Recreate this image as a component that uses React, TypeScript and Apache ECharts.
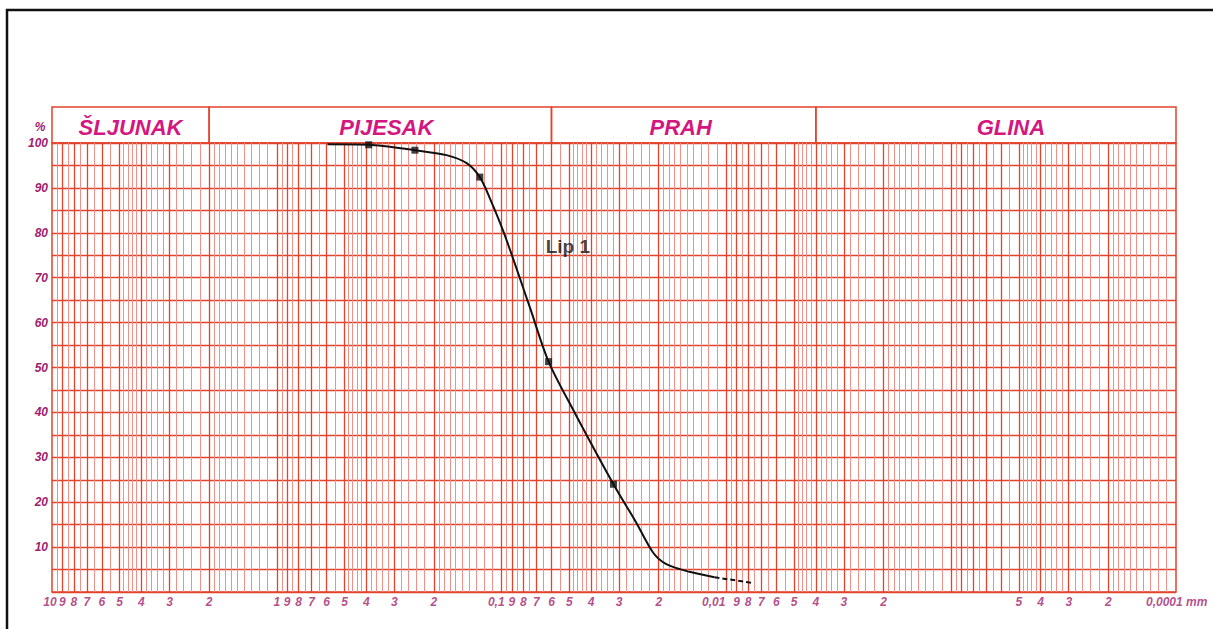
import React, { useEffect, useRef } from 'react';
import * as echarts from 'echarts';

// grain size axis (mm), decreasing to the right
const X_MIN = 0.0001;
const X_MAX = 10;

// grading curve: diameter (mm) and percent passing
const curveD = [0.595, 0.39, 0.243, 0.176, 0.143, 0.125, 0.113, 0.097, 0.0751, 0.0618, 0.0482, 0.0318, 0.0252, 0.0212, 0.0185, 0.0146, 0.0113];
const curveP = [99.7, 99.6, 98.4, 97.3, 95.5, 92.4, 87.8, 79.6, 63.6, 51.3, 40.7, 24.0, 15.5, 8.8, 6.2, 4.5, 3.3];
// dashed extrapolated tail
const tailD = [0.0113, 0.00764];
const tailP = [3.3, 2.0];
// measured points (square markers)
const markD = [0.39, 0.243, 0.125, 0.0618, 0.0318];
const markP = [99.6, 98.4, 92.4, 51.3, 24.0];

// soil classes (header boxes)
const classNames = ['ŠLJUNAK', 'PIJESAK', 'PRAH', 'GLINA'];
const classFrom = [10, 2, 0.06, 0.004];
const classTo = [2, 0.06, 0.004, 0.0001];
const classOffsetX = [0, 6, -3, 15];

// x tick labels
const xTickValues = [10, 9, 8, 7, 6, 5, 4, 3, 2,
  1, 0.9, 0.8, 0.7, 0.6, 0.5, 0.4, 0.3, 0.2,
  0.1, 0.09, 0.08, 0.07, 0.06, 0.05, 0.04, 0.03, 0.02,
  0.01, 0.009, 0.008, 0.007, 0.006, 0.005, 0.004, 0.003, 0.002,
  0.0005, 0.0004, 0.0003, 0.0002, 0.0001];
const xTickTexts = ['10', '9', '8', '7', '6', '5', '4', '3', '2',
  '1', '9', '8', '7', '6', '5', '4', '3', '2',
  '0,1', '9', '8', '7', '6', '5', '4', '3', '2',
  '0,01', '9', '8', '7', '6', '5', '4', '3', '2',
  '5', '4', '3', '2', '0,0001 mm'];

// log-paper grid pattern within one decade (mantissas)
const majorMantissa = [1, 2, 3, 4, 5, 6, 7, 8, 9];
const minorMantissa = [1.1, 1.2, 1.3, 1.4, 1.5, 1.6, 1.7, 1.8, 1.9,
  2.2, 2.4, 2.6, 2.8, 3.2, 3.4, 3.6, 3.8, 4.2, 4.4, 4.6, 4.8,
  5.5, 6.5, 7.5, 8.5, 9.5];
const decades = [0.0001, 0.001, 0.01, 0.1, 1];

const GRID_RED = '#e3432c';
const MINOR_RED = '#ef9188';
const HEAD_PINK = '#d4167f';
const LABEL_PURPLE = '#a1216d';
const FONT = '"Liberation Sans", Arial, sans-serif';

export default function App() {
  const ref = useRef<HTMLDivElement>(null);

  useEffect(() => {
    if (!ref.current) return;
    const chart = echarts.init(ref.current, undefined, { renderer: 'svg' });

    const vLines: any[] = [];
    decades.forEach((dec) => {
      minorMantissa.forEach((m) => {
        vLines.push({ xAxis: +(m * dec).toPrecision(6), lineStyle: { color: MINOR_RED, width: 1, type: 'solid' } });
      });
      majorMantissa.forEach((m) => {
        if (m === 1 && dec === 0.0001) return;
        vLines.push({ xAxis: +(m * dec).toPrecision(6), lineStyle: { color: GRID_RED, width: 1.3, type: 'solid' } });
      });
    });

    const curve = curveD.map((d, i) => [d, curveP[i]]);
    const tail = tailD.map((d, i) => [d, tailP[i]]);
    const marks = markD.map((d, i) => [d, markP[i]]);
    const tickData = xTickValues.map((v, i) => {
      const item: any = { value: [v, 0], name: xTickTexts[i] };
      if (xTickTexts[i] === '0,1') item.label = { align: 'right', offset: [3, 0] };
      if (xTickTexts[i] === '0,01') item.label = { align: 'right', offset: [-1, 0] };
      if (xTickTexts[i] === '0,0001 mm') item.label = { align: 'left', offset: [-30, 0] };
      if (xTickTexts[i] === '10') item.label = { offset: [-2, 0] };
      return item;
    });

    const headAreas = classNames.map((n, i) => [
      {
        name: n,
        xAxis: classFrom[i],
        yAxis: 0,
        label: { offset: [classOffsetX[i], 2] },
      },
      { xAxis: classTo[i], yAxis: 1 },
    ]);

    chart.setOption({
      animation: false,
      grid: [
        { left: 52, right: 37, top: 143, bottom: 37, show: true, borderColor: GRID_RED, borderWidth: 1.5, backgroundColor: 'transparent' },
        { left: 52, right: 37, top: 107, height: 36, show: false },
      ],
      xAxis: [
        {
          type: 'log', logBase: 10, min: X_MIN, max: X_MAX, inverse: true, gridIndex: 0,
          axisLine: { show: false }, axisTick: { show: false }, axisLabel: { show: false }, splitLine: { show: false },
        },
        {
          type: 'log', logBase: 10, min: X_MIN, max: X_MAX, inverse: true, gridIndex: 1,
          axisLine: { show: false }, axisTick: { show: false }, axisLabel: { show: false }, splitLine: { show: false },
        },
      ],
      yAxis: [
        {
          type: 'value', min: 0, max: 100, interval: 5, gridIndex: 0,
          axisLine: { show: false }, axisTick: { show: false },
          axisLabel: {
            margin: 4,
            color: LABEL_PURPLE, fontSize: 12, fontWeight: 'bold', fontStyle: 'italic', fontFamily: FONT,
            formatter: (v: number) => (v > 0 && v % 10 === 0 ? String(v) : ''),
          },
          splitLine: { show: true, lineStyle: { color: GRID_RED, width: 1.4 } },
        },
        {
          type: 'value', min: 0, max: 1, gridIndex: 1,
          axisLine: { show: false }, axisTick: { show: false }, axisLabel: { show: false }, splitLine: { show: false },
        },
      ],
      series: [
        {
          type: 'line', xAxisIndex: 0, yAxisIndex: 0, data: [], silent: true, z: 1,
          markLine: {
            silent: true, symbol: ['none', 'none'], label: { show: false }, animation: false, precision: 10,
            data: vLines,
          },
        },
        {
          type: 'line', xAxisIndex: 1, yAxisIndex: 1, data: [[1, -5]], showSymbol: false, silent: true,
          lineStyle: { opacity: 0 },
          markArea: {
            silent: true,
            itemStyle: { color: 'rgba(255,255,255,0)', borderColor: GRID_RED, borderWidth: 1.5 },
            label: {
              show: true, position: 'inside', color: HEAD_PINK, fontSize: 22, fontWeight: 'bold', fontStyle: 'italic', fontFamily: FONT,
            },
            data: headAreas,
          },
        },
        {
          name: 'Lip 1', type: 'line', xAxisIndex: 0, yAxisIndex: 0, data: curve, smooth: 0.3,
          showSymbol: false, z: 5, lineStyle: { color: '#111', width: 2 },
        },
        {
          type: 'line', xAxisIndex: 0, yAxisIndex: 0, data: tail, showSymbol: false, z: 5,
          lineStyle: { color: '#111', width: 2, type: [5, 3] },
        },
        {
          type: 'scatter', xAxisIndex: 0, yAxisIndex: 0, data: marks, symbol: 'rect', symbolSize: 7, z: 6,
          itemStyle: { color: '#111' },
        },
        {
          type: 'scatter', xAxisIndex: 0, yAxisIndex: 0, data: tickData, symbolSize: 1, clip: false, silent: true,
          itemStyle: { color: 'rgba(0,0,0,0)' },
          label: {
            show: true, position: 'bottom', distance: 3, formatter: '{b}',
            color: LABEL_PURPLE, fontSize: 12, fontWeight: 'bold', fontStyle: 'italic', fontFamily: FONT,
          },
        },
        {
          type: 'scatter', xAxisIndex: 0, yAxisIndex: 0, data: [{ value: [0.064, 77], name: 'Lip 1' }], symbolSize: 1, z: 6,
          itemStyle: { color: 'rgba(0,0,0,0)' },
          label: { show: true, position: 'right', distance: 0, formatter: '{b}', color: '#111', fontSize: 19, fontWeight: 'bold', fontFamily: FONT },
        },
      ],
      graphic: [
        { type: 'rect', shape: { x: 7, y: 10, width: 1230, height: 650 }, style: { fill: 'none', stroke: '#111', lineWidth: 2.5 }, silent: true },
        { type: 'text', x: 40, y: 127, style: { text: '%', fill: LABEL_PURPLE, font: 'italic bold 12px "Liberation Sans", Arial, sans-serif', textAlign: 'center', textVerticalAlign: 'middle' } },
      ],
    });

    return () => chart.dispose();
  }, []);

  return <div ref={ref} style={{ position: 'absolute', left: 0, top: 0, width: 1213, height: 629, background: '#fff' }} />;
}
